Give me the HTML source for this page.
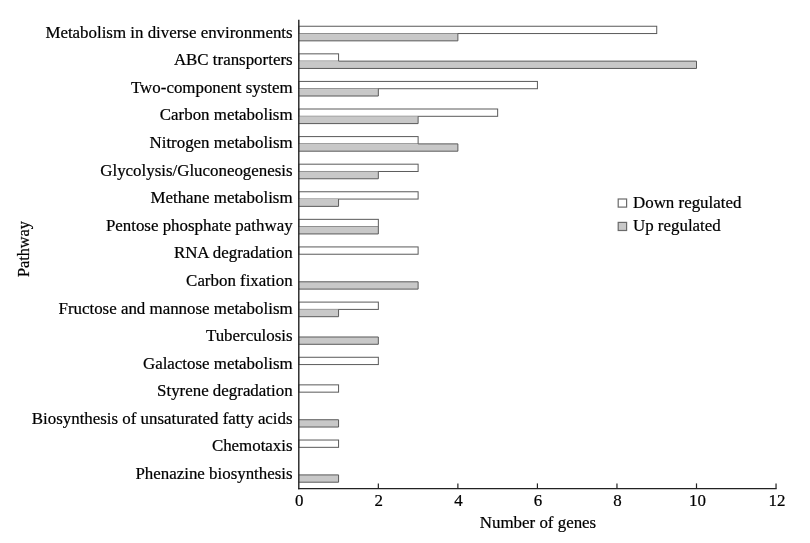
<!DOCTYPE html>
<html><head><meta charset="utf-8"><title>Pathway chart</title>
<style>
html,body{margin:0;padding:0;background:#fff;}
body{width:810px;height:543px;overflow:hidden;}
svg{display:block;filter:grayscale(1);}
text{font-family:"Liberation Serif",serif;font-size:16.9px;fill:#000;stroke:#000;stroke-width:0.22px;}
</style></head><body>
<svg width="810" height="543" viewBox="0 0 810 543">
<rect x="0" y="0" width="810" height="543" fill="#ffffff"/>
<rect x="298.80" y="26.25" width="357.93" height="7.30" fill="#ffffff" stroke="#5a5a5a" stroke-width="1"/>
<rect x="298.80" y="33.55" width="159.08" height="7.30" fill="#c8c8c8"/>
<path d="M457.88 33.55V40.85H298.80" fill="none" stroke="#5a5a5a" stroke-width="1"/>
<text x="292.6" y="37.70" text-anchor="end">Metabolism in diverse environments</text>
<rect x="298.80" y="53.84" width="39.77" height="7.30" fill="#ffffff" stroke="#5a5a5a" stroke-width="1"/>
<rect x="298.80" y="61.14" width="397.70" height="7.30" fill="#c8c8c8"/>
<path d="M338.57 61.14H696.50V68.44H298.80" fill="none" stroke="#5a5a5a" stroke-width="1"/>
<text x="292.6" y="65.28" text-anchor="end">ABC transporters</text>
<rect x="298.80" y="81.42" width="238.62" height="7.30" fill="#ffffff" stroke="#5a5a5a" stroke-width="1"/>
<rect x="298.80" y="88.72" width="79.54" height="7.30" fill="#c8c8c8"/>
<path d="M378.34 88.72V96.02H298.80" fill="none" stroke="#5a5a5a" stroke-width="1"/>
<text x="292.6" y="92.87" text-anchor="end">Two-component system</text>
<rect x="298.80" y="109.00" width="198.85" height="7.30" fill="#ffffff" stroke="#5a5a5a" stroke-width="1"/>
<rect x="298.80" y="116.30" width="119.31" height="7.30" fill="#c8c8c8"/>
<path d="M418.11 116.30V123.60H298.80" fill="none" stroke="#5a5a5a" stroke-width="1"/>
<text x="292.6" y="120.45" text-anchor="end">Carbon metabolism</text>
<rect x="298.80" y="136.59" width="119.31" height="7.30" fill="#ffffff" stroke="#5a5a5a" stroke-width="1"/>
<rect x="298.80" y="143.89" width="159.08" height="7.30" fill="#c8c8c8"/>
<path d="M418.11 143.89H457.88V151.19H298.80" fill="none" stroke="#5a5a5a" stroke-width="1"/>
<text x="292.6" y="148.04" text-anchor="end">Nitrogen metabolism</text>
<rect x="298.80" y="164.18" width="119.31" height="7.30" fill="#ffffff" stroke="#5a5a5a" stroke-width="1"/>
<rect x="298.80" y="171.48" width="79.54" height="7.30" fill="#c8c8c8"/>
<path d="M378.34 171.48V178.78H298.80" fill="none" stroke="#5a5a5a" stroke-width="1"/>
<text x="292.6" y="175.62" text-anchor="end">Glycolysis/Gluconeogenesis</text>
<rect x="298.80" y="191.76" width="119.31" height="7.30" fill="#ffffff" stroke="#5a5a5a" stroke-width="1"/>
<rect x="298.80" y="199.06" width="39.77" height="7.30" fill="#c8c8c8"/>
<path d="M338.57 199.06V206.36H298.80" fill="none" stroke="#5a5a5a" stroke-width="1"/>
<text x="292.6" y="203.21" text-anchor="end">Methane metabolism</text>
<rect x="298.80" y="219.34" width="79.54" height="7.30" fill="#ffffff" stroke="#5a5a5a" stroke-width="1"/>
<rect x="298.80" y="226.65" width="79.54" height="7.30" fill="#c8c8c8"/>
<path d="M378.34 226.65V233.94H298.80" fill="none" stroke="#5a5a5a" stroke-width="1"/>
<text x="292.6" y="230.80" text-anchor="end">Pentose phosphate pathway</text>
<rect x="298.80" y="246.93" width="119.31" height="7.30" fill="#ffffff" stroke="#5a5a5a" stroke-width="1"/>
<text x="292.6" y="258.38" text-anchor="end">RNA degradation</text>
<rect x="298.80" y="281.81" width="119.31" height="7.30" fill="#c8c8c8"/>
<path d="M298.80 281.81H418.11V289.12H298.80" fill="none" stroke="#5a5a5a" stroke-width="1"/>
<text x="292.6" y="285.97" text-anchor="end">Carbon fixation</text>
<rect x="298.80" y="302.10" width="79.54" height="7.30" fill="#ffffff" stroke="#5a5a5a" stroke-width="1"/>
<rect x="298.80" y="309.40" width="39.77" height="7.30" fill="#c8c8c8"/>
<path d="M338.57 309.40V316.70H298.80" fill="none" stroke="#5a5a5a" stroke-width="1"/>
<text x="292.6" y="313.55" text-anchor="end">Fructose and mannose metabolism</text>
<rect x="298.80" y="336.99" width="79.54" height="7.30" fill="#c8c8c8"/>
<path d="M298.80 336.99H378.34V344.29H298.80" fill="none" stroke="#5a5a5a" stroke-width="1"/>
<text x="292.6" y="341.13" text-anchor="end">Tuberculosis</text>
<rect x="298.80" y="357.27" width="79.54" height="7.30" fill="#ffffff" stroke="#5a5a5a" stroke-width="1"/>
<text x="292.6" y="368.72" text-anchor="end">Galactose metabolism</text>
<rect x="298.80" y="384.86" width="39.77" height="7.30" fill="#ffffff" stroke="#5a5a5a" stroke-width="1"/>
<text x="292.6" y="396.31" text-anchor="end">Styrene degradation</text>
<rect x="298.80" y="419.74" width="39.77" height="7.30" fill="#c8c8c8"/>
<path d="M298.80 419.74H338.57V427.04H298.80" fill="none" stroke="#5a5a5a" stroke-width="1"/>
<text x="292.6" y="423.89" text-anchor="end">Biosynthesis of unsaturated fatty acids</text>
<rect x="298.80" y="440.03" width="39.77" height="7.30" fill="#ffffff" stroke="#5a5a5a" stroke-width="1"/>
<text x="292.6" y="451.48" text-anchor="end">Chemotaxis</text>
<rect x="298.80" y="474.91" width="39.77" height="7.30" fill="#c8c8c8"/>
<path d="M298.80 474.91H338.57V482.21H298.80" fill="none" stroke="#5a5a5a" stroke-width="1"/>
<text x="292.6" y="479.06" text-anchor="end">Phenazine biosynthesis</text>
<line x1="298.8" y1="19.8" x2="298.8" y2="489.3" stroke="#222" stroke-width="1.4"/>
<line x1="298.1" y1="488.6" x2="776.64" y2="488.6" stroke="#222" stroke-width="1.4"/>
<text x="299.30" y="506" text-anchor="middle">0</text>
<line x1="378.34" y1="488.6" x2="378.34" y2="483.40000000000003" stroke="#222" stroke-width="1.2"/>
<text x="378.84" y="506" text-anchor="middle">2</text>
<line x1="457.88" y1="488.6" x2="457.88" y2="483.40000000000003" stroke="#222" stroke-width="1.2"/>
<text x="458.38" y="506" text-anchor="middle">4</text>
<line x1="537.42" y1="488.6" x2="537.42" y2="483.40000000000003" stroke="#222" stroke-width="1.2"/>
<text x="537.92" y="506" text-anchor="middle">6</text>
<line x1="616.96" y1="488.6" x2="616.96" y2="483.40000000000003" stroke="#222" stroke-width="1.2"/>
<text x="617.46" y="506" text-anchor="middle">8</text>
<line x1="696.50" y1="488.6" x2="696.50" y2="483.40000000000003" stroke="#222" stroke-width="1.2"/>
<text x="697.40" y="506" text-anchor="middle">10</text>
<line x1="776.04" y1="488.6" x2="776.04" y2="483.40000000000003" stroke="#222" stroke-width="1.2"/>
<text x="776.94" y="506" text-anchor="middle">12</text>
<text x="538" y="527.5" text-anchor="middle">Number of genes</text>
<text transform="translate(29.2,277.1) rotate(-90) scale(0.963,1)" x="0" y="0">Pathway</text>
<rect x="618.2" y="199" width="8.4" height="8.1" fill="#ffffff" stroke="#6a6a6a" stroke-width="1.2"/>
<text x="633" y="207.7">Down regulated</text>
<rect x="618.2" y="222.4" width="8.4" height="8.1" fill="#c8c8c8" stroke="#6a6a6a" stroke-width="1.2"/>
<text x="633" y="231">Up regulated</text>
</svg>
</body></html>
